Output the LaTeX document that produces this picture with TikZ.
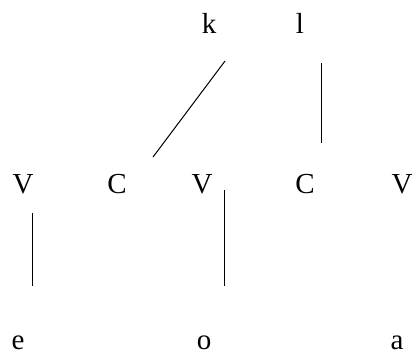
\documentclass[tikz,border=0pt]{standalone}
\usepackage{fontspec}
\setmainfont{Liberation Serif}
\newcommand\segfont{\fontsize{29pt}{33pt}\selectfont}
\begin{document}
\begin{tikzpicture}[x=1pt,y=-1pt,
  seg/.style={font=\segfont, anchor=base, inner sep=0pt},
  link/.style={line width=1pt}]
\useasboundingbox (0,0) rectangle (414,354);
% tier 1
\node[seg] (k) at (209,33) {k};
\node[seg] (l) at (300,33) {l};
% skeleton
\node[seg] (v1) at (23,193) {V};
\node[seg] (c1) at (117,193) {C};
\node[seg] (v2) at (202,193) {V};
\node[seg] (c2) at (305,193) {C};
\node[seg] (v3) at (402,193) {V};
% vowels
\node[seg] (e) at (18,349) {e};
\node[seg] (o) at (204,349) {o};
\node[seg] (a) at (397,349) {a};
% connector ends
\coordinate (kb) at (225,61);
\coordinate (c1t) at (153,157);
\coordinate (lb) at (321,63);
\coordinate (c2t) at (321,143);
\coordinate (v1b) at (32,213);
\coordinate (et) at (32,286);
\coordinate (v2b) at (224,190);
\coordinate (ot) at (224,286);
\draw[link] (kb) -- (c1t);
\draw[link] (lb) -- (c2t);
\draw[link] (v1b) -- (et);
\draw[link] (v2b) -- (ot);
\end{tikzpicture}
\end{document}
